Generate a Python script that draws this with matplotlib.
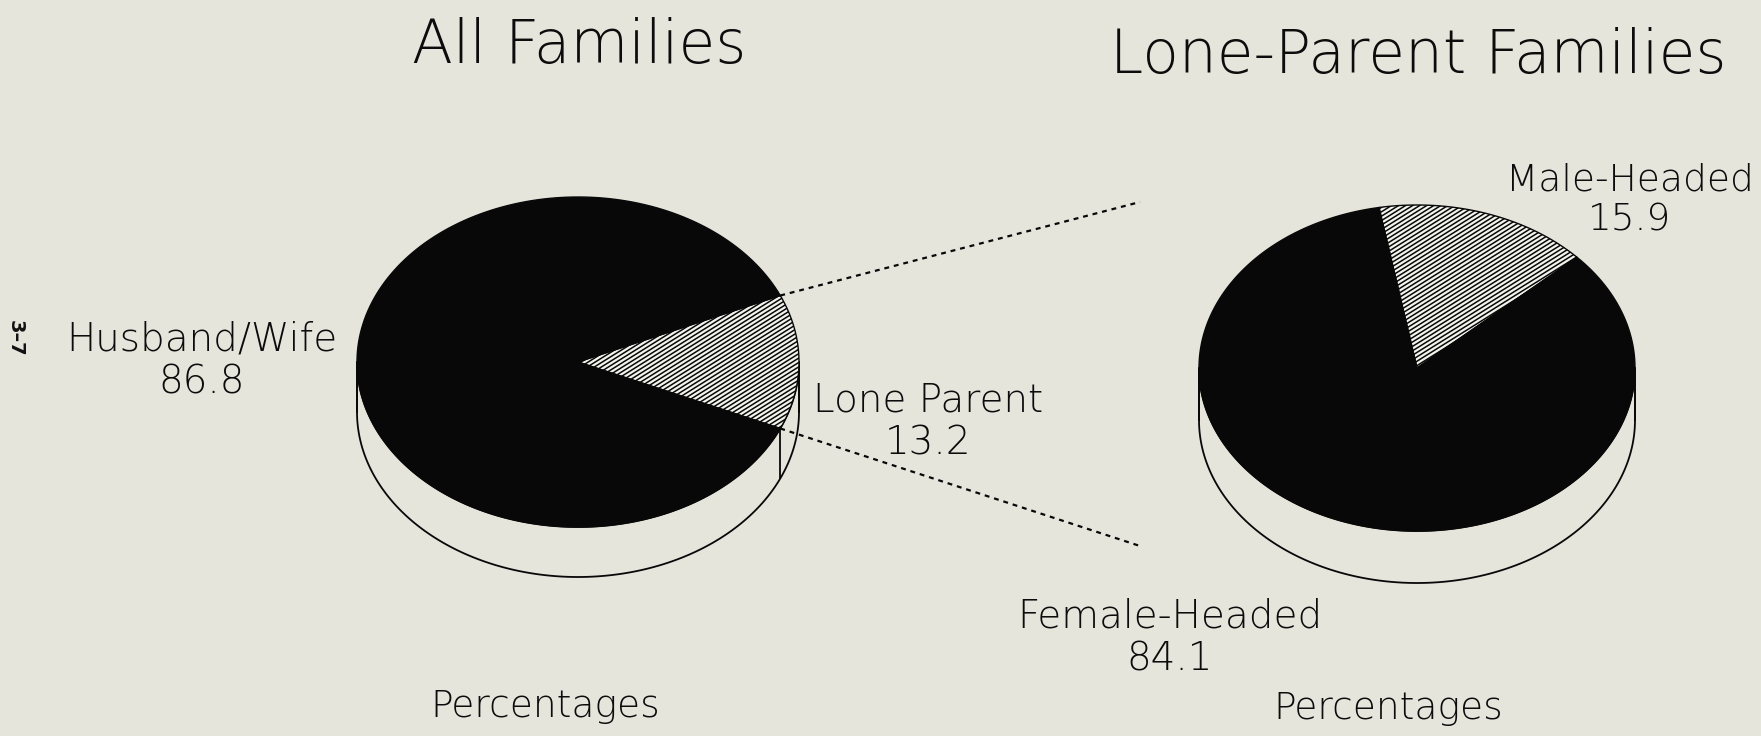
import numpy as np
import matplotlib.pyplot as plt
from matplotlib.patches import Polygon
from matplotlib.collections import LineCollection

# data
all_labels = ['Husband/Wife', 'Lone Parent']
all_values = [86.8, 13.2]
lone_labels = ['Female-Headed', 'Male-Headed']
lone_values = [84.1, 15.9]

paper = '#e6e5dc'
ink = '#080808'

fig = plt.figure(figsize=(17.61, 7.36), dpi=100)
fig.patch.set_facecolor(paper)
ax = fig.add_axes([0, 0, 1, 1])
ax.set_xlim(0, 1761)
ax.set_ylim(736, 0)
ax.axis('off')

txt = dict(family='DejaVu Sans', weight='light', color='#0c0c0c')


def ell(cx, cy, a, b, t, dy=0):
    t = np.radians(t)
    return np.column_stack([cx + a * np.cos(t), cy - b * np.sin(t) + dy])


def pie3d(cx, cy, a, b, depth, values, start, hatched):
    # side band (front half only)
    t = np.linspace(180, 360, 200)
    top = ell(cx, cy, a, b, t)
    bot = ell(cx, cy, a, b, t[::-1], depth)
    ax.add_patch(Polygon(np.vstack([top, bot]), closed=True, facecolor=paper,
                         edgecolor=ink, lw=1.3, zorder=1))
    angles = []
    t0 = start
    for i, v in enumerate(values[::-1]):
        t1 = t0 + v * 3.6
        angles.append((t0, t1))
        ts = np.linspace(t0, t1, 200)
        pts = np.vstack([[cx, cy], ell(cx, cy, a, b, ts)])
        idx = len(values) - 1 - i
        if idx == hatched:
            wedge = Polygon(pts, closed=True, facecolor='#f4f4ee', edgecolor=ink, lw=1.0, zorder=2)
            ax.add_patch(wedge)
            k = np.tan(np.radians(32))
            offs = np.arange(-900, 900, 4.4)
            segs = [[(cx - 400, cy + o + 400 * k), (cx + 400, cy + o - 400 * k)] for o in offs]
            lc = LineCollection(segs, colors=ink, linewidths=1.1, zorder=3)
            ax.add_collection(lc)
            lc.set_clip_path(wedge)
            # vertical edge on the front side
            for tb in (t0, t1):
                if np.sin(np.radians(tb)) < 0:
                    p = ell(cx, cy, a, b, [tb])[0]
                    ax.plot([p[0], p[0]], [p[1], p[1] + depth], color=ink, lw=1.3, zorder=1.5)
        else:
            ax.add_patch(Polygon(pts, closed=True, facecolor=ink, edgecolor=ink, lw=1.0, zorder=2))
        t0 = t1
    # outer verticals
    for tb in (180, 360):
        p = ell(cx, cy, a, b, [tb])[0]
        ax.plot([p[0], p[0]], [p[1], p[1] + depth], color=ink, lw=1.3, zorder=1.5)
    return angles


# left pie: Lone Parent wedge centred on the right
left_start = -all_values[1] * 3.6 / 2
ang = pie3d(578, 362, 221, 165, 50, all_values, left_start, hatched=1)

# right pie
pie3d(1417, 368, 218, 163, 52, lone_values, 42.8, hatched=1)

# dotted connectors
lp = ell(578, 362, 221, 165, [ang[0][1], ang[0][0]])
ends = [(1140, 202), (1140, 546)]
for p, e in zip(lp, ends):
    ax.plot([p[0], e[0]], [p[1], e[1]], color=ink, lw=1.6, ls=(0, (2.2, 2.2)), zorder=4)

# titles
ax.text(579, 47, 'All Families', fontsize=43, ha='center', va='center', **txt)
ax.text(1418, 56, 'Lone-Parent Families', fontsize=43, ha='center', va='center', **txt)

# slice labels
ax.text(202, 361, f'{all_labels[0]}\n{all_values[0]}', fontsize=28, ha='center', va='center',
        linespacing=1.15, **txt)
ax.text(928, 422, f'{all_labels[1]}\n{all_values[1]}', fontsize=28, ha='center', va='center',
        linespacing=1.15, **txt)
ax.text(1630, 200, f'{lone_labels[1]}\n{lone_values[1]}', fontsize=27, ha='center', va='center',
        linespacing=1.15, **txt)
ax.text(1170, 638, f'{lone_labels[0]}\n{lone_values[0]}', fontsize=28, ha='center', va='center',
        linespacing=1.15, **txt)

ax.text(545, 706, 'Percentages', fontsize=27, ha='center', va='center', **txt)
ax.text(1388, 708, 'Percentages', fontsize=27, ha='center', va='center', **txt)

# page number on the scan margin
ax.text(15, 338, '3\u20137', fontsize=14, weight='bold', rotation=-90, ha='center', va='center',
        family='DejaVu Sans', color='#111111')

fig.savefig('out.png', dpi=100, facecolor=paper)
